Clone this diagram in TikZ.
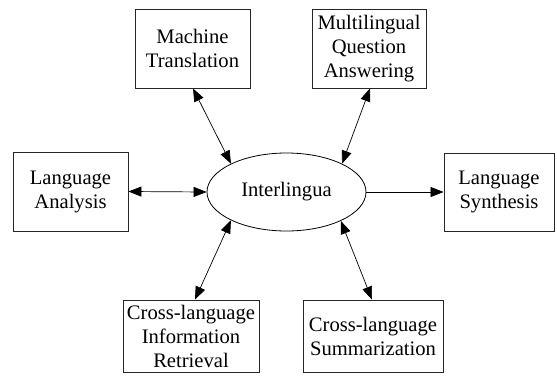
\documentclass[tikz,border=0pt]{standalone}
\usepackage{fontspec}
\setmainfont{Liberation Serif}
\usetikzlibrary{arrows.meta,shapes.geometric,calc}
\begin{document}
\begin{tikzpicture}[x=1pt,y=-1pt,
  every node/.style={font=\fontsize{20.6}{24}\selectfont, align=center, inner sep=0pt},
  box/.style={draw, line width=0.8pt, color=black!85, text=black},
  conn/.style={line width=0.7pt, {Triangle[length=13pt,width=10pt]}-{Triangle[length=13pt,width=10pt]}},
  oneway/.style={line width=0.7pt, -{Triangle[length=13pt,width=10pt]}}]
\useasboundingbox (0,0) rectangle (557,381);
\node[box, minimum width=115pt, minimum height=79pt] (mt) at (192.5,48.5) {Machine\\Translation};
\node[box, minimum width=114pt, minimum height=79pt] (mqa) at (369,48.5) {Multilingual\\Question\\Answering};
\node[box, minimum width=115pt, minimum height=79pt] (la) at (70.5,191.5) {Language\\Analysis};
\node[box, minimum width=110pt, minimum height=78pt] (ls) at (499,192) {Language\\Synthesis};
\node[draw, ellipse, line width=0.8pt, inner sep=0pt, minimum width=159pt, minimum height=78pt] (il) at (286.5,192) {Interlingua};
\node[box, minimum width=136pt, minimum height=72pt] (clir) at (191,336) {Cross-language\\Information\\Retrieval};
\node[box, minimum width=140pt, minimum height=72pt] (cls) at (373,336) {Cross-language\\Summarization};
\draw[conn] ($(mt.south)+(0.5,0)$) -- (il.153.6);
\draw[conn] ($(mqa.south)+(1,0)$) -- (il.27);
\draw[conn] (la.east) -- (il.west);
\draw[oneway] (il.east) -- (ls.west);
\draw[conn] (il.207.5) -- ($(clir.north)+(4,0)$);
\draw[conn] (il.332) -- ($(cls.north)+(-1,0)$);
\end{tikzpicture}
\end{document}
